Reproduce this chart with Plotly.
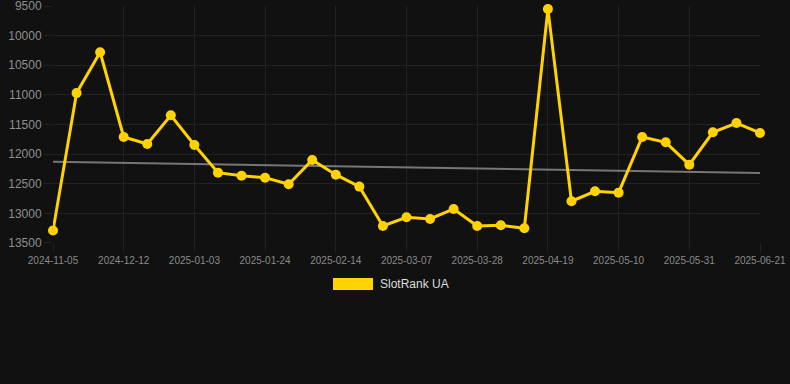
import plotly.graph_objects as go

dates = ["2024-11-05", "2024-11-17", "2024-11-29", "2024-12-12", "2024-12-19", "2024-12-26",
         "2025-01-03", "2025-01-10", "2025-01-17", "2025-01-24", "2025-01-31", "2025-02-07",
         "2025-02-14", "2025-02-21", "2025-02-28", "2025-03-07", "2025-03-14", "2025-03-21",
         "2025-03-28", "2025-04-04", "2025-04-11", "2025-04-19", "2025-04-26", "2025-05-03",
         "2025-05-10", "2025-05-17", "2025-05-24", "2025-05-31", "2025-06-07", "2025-06-14",
         "2025-06-21"]
rank = [13290, 10970, 10280, 11710, 11830, 11345, 11846, 12313, 12364, 12398, 12510, 12099,
        12347, 12549, 13213, 13066, 13095, 12926, 13213, 13202, 13252, 9551, 12796, 12628,
        12651, 11711, 11801, 12178, 11632, 11475, 11643]
trend = [12130, 12320]
y_ticks = [9500, 10000, 10500, 11000, 11500, 12000, 12500, 13000, 13500]
series_name = "SlotRank UA"

idx = list(range(len(dates)))
tick_idx = idx[::3]
tick_txt = dates[::3]

fig = go.Figure()
fig.add_trace(go.Scatter(x=[idx[0], idx[-1]], y=trend, mode="lines",
                         line=dict(color="#777777", width=2), showlegend=False,
                         hoverinfo="skip", cliponaxis=False))
fig.add_trace(go.Scatter(x=idx, y=rank, mode="lines+markers", name=series_name,
                         line=dict(color="#FFD200", width=3),
                         marker=dict(color="#FFD200", size=10),
                         showlegend=False, cliponaxis=False))

fig.update_layout(
    width=790, height=384,
    margin=dict(l=53, r=30, t=6, b=141),
    paper_bgcolor="#111111", plot_bgcolor="#111111",
    font=dict(family="Liberation Sans, Arial", color="#8a8a8a"),
    showlegend=False,
)
fig.update_xaxes(range=[0, 30], tickvals=tick_idx, ticktext=tick_txt,
                 showgrid=True, gridcolor="#222222", gridwidth=1,
                 ticks="outside", ticklen=8, tickcolor="#222222",
                 tickfont=dict(size=10, color="#8a8a8a"), zeroline=False,
                 showline=False, ticklabeloverflow="allow", automargin=False)
fig.update_yaxes(range=[13501, 9499], tickvals=y_ticks, tickformat="d",
                 showgrid=True, gridcolor="#222222", gridwidth=1,
                 ticks="outside", ticklen=8, tickcolor="#222222",
                 tickfont=dict(size=12, color="#8f8f8f"), zeroline=False,
                 showline=False, ticklabeloverflow="allow", automargin=False)

# legend drawn as box + text (Chart.js style)
fig.add_shape(type="rect", xref="paper", yref="paper",
              x0=(333 - 53) / 707, x1=(373 - 53) / 707,
              y0=(243 - 290) / 237, y1=(243 - 278) / 237,
              fillcolor="#FFD200", line=dict(color="#FFD200", width=0))
fig.add_annotation(xref="paper", yref="paper", x=(378 - 53) / 707, y=(243 - 284) / 237,
                   text=series_name, showarrow=False, xanchor="left", yanchor="middle",
                   font=dict(size=12, color="#dddddd", family="Liberation Sans, Arial"))

fig.write_html("out.html", config={"displayModeBar": False},
               post_script="document.body.style.margin='0';document.body.style.background='#111111';")
